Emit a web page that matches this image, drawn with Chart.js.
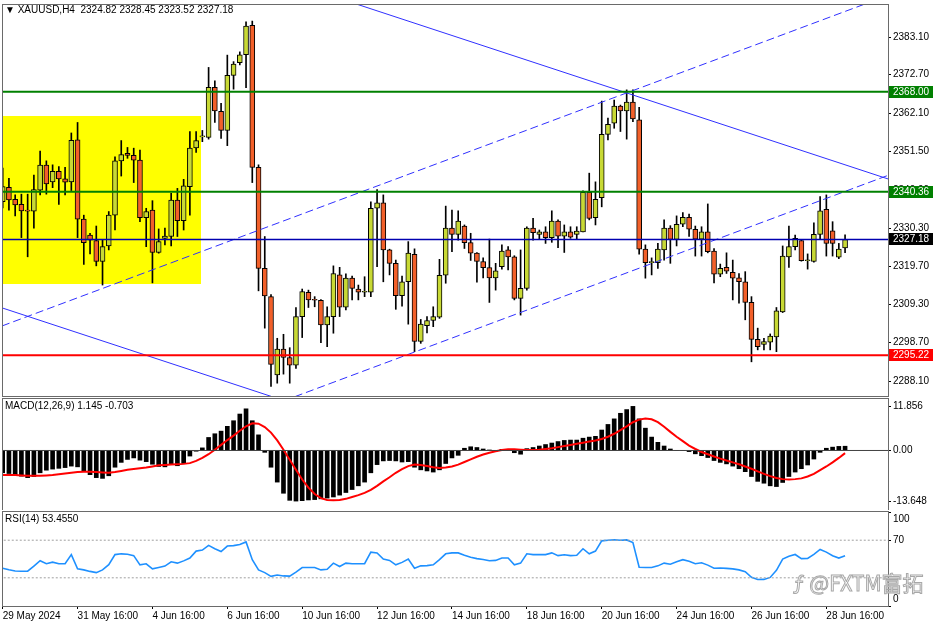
<!DOCTYPE html>
<html>
<head>
<meta charset="utf-8">
<script src="https://cdn.jsdelivr.net/npm/chart.js@4.4.1/dist/chart.umd.min.js"></script>
<style>
body { margin: 0; background: #fff; width: 936px; height: 624px; overflow: hidden; position: relative; font-family: "Liberation Sans", Arial, sans-serif; }
.pane { position: absolute; left: 0; width: 936px; }
.lbl { position: absolute; left: 5px; font-size: 10px; line-height: 12px; color: #000; white-space: pre; }
.mark { position: absolute; left: 793px; top: 567px; font-family: "Noto Sans CJK SC", "Liberation Sans", sans-serif; font-size: 21px; color: #fff; -webkit-text-stroke: 1px #a8a8a8; white-space: pre; }
</style>
</head>
<body>
<div class="pane" style="top:0;height:398px"><canvas id="priceChart"></canvas></div>
<div class="pane" style="top:398px;height:112px"><canvas id="macdChart"></canvas></div>
<div class="pane" style="top:511px;height:113px"><canvas id="rsiChart"></canvas></div>
<div class="lbl" style="top:4px">▼ XAUUSD,H4  2324.82 2328.45 2323.52 2327.18</div>
<div class="lbl" style="top:400px">MACD(12,26,9) 1.145 -0.703</div>
<div class="lbl" style="top:513px">RSI(14) 53.4550</div>
<div class="mark">ƒ @FXTM富拓</div>
<script>
/* XAUUSD H4 candles */

const opens = [
  2337.6, 2341.6, 2338.3, 2336.9, 2335.2, 2335.0, 2340.8, 2347.7, 2343.1, 2346.0,
  2343.9, 2343.1, 2354.7, 2332.8, 2328.4, 2326.9, 2321.1, 2325.4, 2333.9, 2348.9,
  2351.0, 2350.4, 2349.1, 2333.2, 2335.3, 2323.6, 2327.5, 2328.0, 2338.1, 2332.4,
  2341.8, 2352.5, 2355.5, 2355.4, 2369.2, 2362.6, 2357.3, 2372.5, 2376.0, 2378.2,
  2386.3, 2347.1, 2319.2, 2311.4, 2289.8, 2296.9, 2294.6, 2292.5, 2305.9, 2312.6,
  2310.5, 2310.4, 2303.6, 2305.9, 2317.4, 2308.5, 2316.5, 2313.5, 2312.6, 2312.6,
  2335.8, 2337.3, 2324.3, 2320.6, 2311.7, 2315.5, 2323.1, 2299.0, 2303.4, 2304.8,
  2305.7, 2317.3, 2330.3, 2328.6, 2330.9, 2326.3, 2323.4, 2321.1, 2319.4, 2316.6,
  2319.7, 2324.3, 2322.4, 2310.9, 2313.7, 2330.3, 2328.6, 2329.3, 2327.7, 2332.3,
  2328.1, 2329.3, 2328.6, 2329.3, 2340.2, 2333.2, 2338.7, 2356.2, 2359.3, 2364.0,
  2362.7, 2365.1, 2360.2, 2324.5, 2320.8, 2320.8, 2324.3, 2330.3, 2327.2, 2331.4,
  2333.3, 2330.0, 2327.3, 2329.3, 2324.0, 2317.6, 2319.5, 2318.1, 2316.6, 2315.5,
  2309.8, 2299.6, 2298.2, 2298.8, 2300.3, 2307.2, 2322.4, 2325.2, 2326.9, 2321.3,
  2321.1, 2328.6, 2335.5, 2329.6, 2322.3, 2324.82
];
const highs = [
  2346.9, 2344.1, 2339.5, 2339.7, 2339.7, 2345.0, 2351.6, 2348.9, 2347.8, 2347.3,
  2347.1, 2356.6, 2359.5, 2333.9, 2328.9, 2330.9, 2327.0, 2334.9, 2350.0, 2354.5,
  2352.6, 2352.4, 2351.9, 2335.8, 2337.9, 2330.1, 2330.3, 2339.9, 2341.3, 2343.8,
  2357.0, 2357.0, 2357.3, 2374.7, 2371.0, 2364.8, 2378.1, 2376.3, 2379.0, 2387.3,
  2387.5, 2347.8, 2328.0, 2312.0, 2299.9, 2301.0, 2297.3, 2308.4, 2313.5, 2313.2,
  2311.4, 2310.6, 2308.6, 2319.9, 2319.5, 2317.7, 2317.1, 2314.6, 2316.9, 2337.6,
  2341.0, 2339.5, 2324.5, 2321.5, 2317.1, 2326.6, 2324.6, 2305.1, 2305.9, 2308.6,
  2321.7, 2336.4, 2335.3, 2335.1, 2331.2, 2328.9, 2323.6, 2322.1, 2327.3, 2320.6,
  2325.7, 2325.2, 2322.7, 2324.3, 2330.7, 2333.0, 2329.8, 2330.7, 2335.1, 2332.6,
  2331.2, 2330.7, 2330.7, 2340.6, 2345.5, 2343.1, 2365.4, 2360.7, 2365.7, 2364.3,
  2368.5, 2368.5, 2363.7, 2325.7, 2322.1, 2326.1, 2332.6, 2331.0, 2333.7, 2334.6,
  2334.2, 2330.9, 2330.7, 2337.0, 2324.7, 2320.4, 2323.5, 2321.5, 2317.8, 2318.3,
  2311.4, 2302.7, 2299.9, 2301.1, 2308.4, 2325.4, 2330.9, 2328.4, 2327.0, 2323.2,
  2331.8, 2339.0, 2339.5, 2332.1, 2326.1, 2328.45
];
const lows = [
  2335.9, 2335.3, 2333.7, 2327.7, 2322.4, 2330.3, 2339.5, 2339.7, 2341.5, 2336.9,
  2339.5, 2340.7, 2327.7, 2320.3, 2323.2, 2319.9, 2314.6, 2324.3, 2329.8, 2344.7,
  2349.6, 2342.9, 2332.1, 2325.2, 2315.2, 2323.4, 2325.7, 2325.4, 2328.0, 2329.8,
  2333.9, 2351.2, 2354.2, 2354.9, 2359.5, 2355.1, 2353.1, 2368.7, 2375.4, 2369.1,
  2342.9, 2313.0, 2302.7, 2286.6, 2287.5, 2290.0, 2287.5, 2291.6, 2300.1, 2308.4,
  2308.6, 2298.7, 2297.6, 2301.3, 2305.9, 2307.7, 2310.5, 2310.5, 2311.4, 2311.4,
  2319.7, 2315.5, 2317.4, 2307.9, 2308.8, 2303.8, 2296.2, 2298.5, 2301.4, 2303.1,
  2305.4, 2315.1, 2323.8, 2327.0, 2324.7, 2321.4, 2315.4, 2316.6, 2309.8, 2313.2,
  2319.0, 2318.8, 2310.5, 2306.3, 2313.2, 2327.0, 2327.3, 2326.1, 2326.4, 2324.9,
  2323.6, 2327.5, 2327.3, 2329.3, 2332.6, 2331.2, 2336.2, 2354.7, 2357.9, 2357.0,
  2354.9, 2359.7, 2323.1, 2316.5, 2317.4, 2319.2, 2321.5, 2320.6, 2325.4, 2330.7,
  2328.0, 2322.6, 2322.6, 2323.5, 2315.2, 2316.9, 2317.8, 2310.5, 2309.6, 2305.0,
  2293.4, 2296.7, 2296.7, 2296.7, 2296.2, 2307.0, 2319.5, 2324.3, 2321.2, 2319.0,
  2320.9, 2327.2, 2322.6, 2322.6, 2321.9, 2323.52
];
const closes = [
  2341.8, 2338.1, 2336.7, 2335.1, 2335.0, 2341.0, 2347.7, 2342.5, 2346.0, 2343.9,
  2343.0, 2354.6, 2332.8, 2326.3, 2327.0, 2321.1, 2325.2, 2333.9, 2348.9, 2350.6,
  2350.4, 2349.1, 2333.2, 2334.9, 2323.6, 2326.6, 2328.1, 2338.1, 2332.4, 2342.0,
  2352.4, 2354.5, 2355.7, 2369.2, 2362.7, 2357.3, 2372.5, 2375.6, 2378.2, 2386.1,
  2347.1, 2319.2, 2311.6, 2292.7, 2296.9, 2294.6, 2292.5, 2305.9, 2312.8, 2310.5,
  2310.4, 2303.6, 2305.9, 2317.8, 2308.5, 2316.5, 2313.7, 2312.6, 2312.7, 2335.8,
  2337.3, 2324.3, 2320.6, 2311.7, 2315.5, 2323.4, 2299.0, 2303.8, 2304.8, 2305.9,
  2317.3, 2330.3, 2328.6, 2332.3, 2326.3, 2323.4, 2321.1, 2319.4, 2316.6, 2318.5,
  2324.0, 2322.4, 2310.9, 2313.7, 2330.3, 2329.1, 2329.3, 2327.7, 2332.3, 2328.1,
  2329.3, 2327.8, 2329.5, 2340.2, 2333.0, 2338.3, 2356.2, 2359.0, 2364.0, 2362.7,
  2365.1, 2360.5, 2324.5, 2320.8, 2320.9, 2324.5, 2330.3, 2327.2, 2331.4, 2333.3,
  2330.0, 2327.3, 2329.3, 2323.8, 2317.6, 2319.2, 2318.4, 2316.5, 2315.5, 2309.8,
  2299.6, 2297.6, 2299.0, 2300.5, 2307.5, 2322.6, 2325.2, 2327.5, 2321.3, 2321.4,
  2328.6, 2335.1, 2326.1, 2326.1, 2324.5, 2327.18
];

/* MACD(12,26,9) */
const macdHist = [
  -6.0, -6.2, -6.5, -6.9, -7.3, -7.0, -6.0, -5.3, -5.0, -4.8,
  -4.6, -4.2, -4.4, -5.5, -6.5, -7.3, -7.5, -6.8, -4.5, -3.2,
  -2.4, -2.0, -2.6, -3.0, -3.7, -4.3, -4.4, -3.8, -4.1, -3.5,
  -1.5, -0.2, 0.7, 3.5, 4.5, 5.2, 6.5, 8.0, 9.8, 11.2,
  8.0, 4.2, -0.5, -4.5, -8.5, -11.5, -13.4, -13.6, -13.5, -13.3,
  -13.2, -13.0, -12.8, -12.5, -12.0, -11.3, -10.5, -9.5, -8.5, -6.0,
  -3.8, -2.8, -2.7, -2.8, -3.1, -3.0, -4.5, -5.2, -5.5, -5.8,
  -5.2, -3.5, -2.0, -1.3, 0.6, 1.0, 0.8, 0.4, 0.1, -0.1,
  0.3, 0.2, -0.6, -1.0, 0.5, 0.8, 1.2, 1.6, 2.0, 2.4,
  2.7, 2.8, 2.8, 3.3, 3.6, 3.8, 5.5, 7.0, 8.5, 10.0,
  11.0, 11.856, 8.5, 6.0, 3.6, 2.2, 1.2, 0.4, 0.0, 0.0,
  -0.3, -0.9, -1.4, -1.9, -2.7, -3.2, -3.6, -4.2, -4.9, -5.7,
  -7.0, -8.3, -8.8, -9.5, -9.7, -8.6, -7.0, -5.8, -4.9, -3.9,
  -2.3, -0.5, 0.6, 0.9, 1.1, 1.145
];
const macdSignal = [
  -6.6, -6.6, -6.6, -6.7, -6.8, -6.8, -6.8, -6.7, -6.6, -6.4,
  -6.2, -6.0, -5.8, -5.7, -5.7, -5.8, -5.9, -6.0, -5.8, -5.5,
  -5.2, -5.0, -4.8, -4.6, -4.3, -4.0, -3.9, -3.8, -3.7, -3.6,
  -3.4, -2.8, -2.0, -1.0, 0.2, 1.5, 2.8, 4.0, 5.3, 6.5,
  7.3, 7.2, 6.3, 4.8, 2.7, 0.2, -2.5, -5.2, -7.8, -10.0,
  -11.7, -12.8, -13.3, -13.4, -13.3, -13.0, -12.5, -12.0, -11.4, -10.6,
  -9.5, -8.3, -7.2, -6.0, -5.0, -4.2, -3.8, -3.9, -4.2, -4.5,
  -4.7, -4.6, -4.3, -3.8, -3.1, -2.4, -1.7, -1.1, -0.6, -0.2,
  0.1, 0.3, 0.3, 0.2, 0.1, 0.1, 0.2, 0.4, 0.6, 0.9,
  1.2, 1.5, 1.8, 2.1, 2.4, 2.7, 3.1, 3.7, 4.5, 5.5,
  6.5, 7.6, 8.3, 8.6, 8.4, 7.6, 6.4, 5.0, 3.7, 2.5,
  1.3, 0.4, -0.4, -1.0, -1.6, -2.2, -2.7, -3.2, -3.7, -4.3,
  -4.9, -5.6, -6.3, -6.9, -7.4, -7.7, -7.8, -7.7, -7.5, -7.0,
  -6.3, -5.3, -4.3, -3.2, -2.0, -0.703
];

/* RSI(14) */
const rsiValues = [
  40.2, 38.5, 37.2, 37.0, 37.0, 42.5, 48.2, 45.0, 46.7, 45.0,
  45.0, 54.7, 39.5, 38.4, 36.8, 35.5, 38.4, 44.0, 54.7, 55.5,
  55.0, 53.6, 43.8, 44.9, 39.5, 41.0, 42.5, 47.0, 45.6, 48.0,
  51.0, 58.4, 59.5, 64.5, 61.0, 58.0, 63.8, 64.2, 65.5, 68.2,
  49.3, 38.4, 35.5, 31.5, 33.0, 32.0, 31.8, 36.0, 40.9, 40.9,
  40.9, 38.4, 39.0, 45.6, 42.0, 45.6, 45.0, 45.0, 45.0, 57.3,
  56.5, 50.0, 48.5, 43.8, 46.4, 50.0, 40.2, 42.7, 43.0, 43.8,
  49.3, 55.5, 56.5, 56.5, 54.0, 51.8, 50.4, 49.5, 48.2, 48.5,
  51.0, 51.0, 43.8, 45.6, 55.5, 54.7, 54.7, 54.7, 56.5, 53.6,
  54.5, 53.6, 53.9, 60.9, 55.5, 58.4, 69.3, 70.0, 70.5, 70.0,
  70.3, 67.5, 41.3, 40.9, 40.9, 42.7, 45.6, 44.5, 47.0, 49.3,
  47.5, 45.0, 46.0, 43.5, 40.2, 40.5, 40.0, 39.5, 38.4, 36.5,
  30.5, 28.2, 28.3, 30.4, 38.0, 50.0, 53.0, 54.8, 50.4, 50.5,
  55.0, 60.2, 57.3, 53.5, 51.0, 53.455
];

/* axes */
const priceTicks = [2383.10, 2372.70, 2362.10, 2351.50, 2340.90, 2330.30, 2319.70, 2309.30, 2298.70, 2288.10];
const macdTicks = [11.856, 0, -13.648];
const rsiTicks = [100, 70, 0];
const rsiLevels = [70, 30];
const dateTickIndex = [0, 12, 24, 36, 48, 60, 72, 84, 96, 108, 120, 132];
const dateTickLabels = [
  "29 May 2024", "31 May 16:00", "4 Jun 16:00", "6 Jun 16:00", "10 Jun 16:00", "12 Jun 16:00",
  "14 Jun 16:00", "18 Jun 16:00", "20 Jun 16:00", "24 Jun 16:00", "26 Jun 16:00", "28 Jun 16:00"
];

/* drawing objects */
const levelValues = [2368.00, 2340.36, 2327.18, 2295.22];
const zoneTop = 2361.3, zoneBottom = 2314.9, zoneEnd = 31.8;
const solidLines = [[-0.11, 2308.3, 50, 2279.9], [50, 2396.0, 141.9, 2343.9]];
const dashedLines = [[-0.11, 2303.3, 141.9, 2394.6], [45, 2282.6, 141.9, 2344.9]];

const BULL = "#c8d935";
const BEAR = "#f2602a";
const levelColors = ["#008000", "#008000", "#0000b0", "#ff0000"];
const levelBoxColors = ["#008000", "#008000", "#000000", "#ff0000"];
const levelWidths = [2, 2, 1.3, 2];

const xMin = -0.11, xMax = 141.88;
const idx = opens.map((_, i) => i);

Chart.defaults.font.family = "Liberation Sans";
Chart.defaults.font.size = 10;
Chart.defaults.color = "#000";
Chart.defaults.animation = false;
Chart.defaults.plugins.legend.display = false;
Chart.defaults.plugins.tooltip.enabled = false;

function hiddenX() {
    return { type: "linear", min: xMin, max: xMax, offset: false, display: false };
}

function rightY(min, max, ticks) {
    return {
        position: "right", min: min, max: max,
        afterFit: (scale) => { scale.width = 48; },
        afterBuildTicks: (scale) => { scale.ticks = ticks.map((v) => ({ value: v })); },
        grid: { drawOnChartArea: false, tickLength: 3, color: "#000" },
        border: { display: true, color: "#000" },
        ticks: { display: false }
    };
}

function flatLine(value, color, width, dash) {
    return {
        type: "line",
        data: [{ x: xMin - 1, y: value }, { x: xMax + 1, y: value }],
        borderColor: color, borderWidth: width, borderDash: dash || [],
        pointRadius: 0, order: 0
    };
}

const frame = {
    id: "frame",
    afterDraw(chart) {
        const { ctx, chartArea } = chart;
        ctx.save();
        ctx.strokeStyle = "#6a6a6a";
        ctx.lineWidth = 1;
        ctx.strokeRect(chartArea.left + 0.5, chartArea.top - 0.5, chartArea.width, chartArea.height + 1);
        ctx.restore();
    }
};

// right-hand axis labels, kept inside the panel
const sideLabels = {
    id: "sideLabels",
    afterDraw(chart, args, opts) {
        const { ctx, chartArea, scales } = chart;
        ctx.save();
        ctx.font = "10px 'Liberation Sans'";
        ctx.fillStyle = "#000";
        ctx.textBaseline = "middle";
        opts.values.forEach((v) => {
            let py = scales.y.getPixelForValue(v);
            py = Math.min(Math.max(py, chartArea.top + 7), chartArea.bottom - 7);
            ctx.fillText(opts.format(v), chartArea.right + 5, py);
        });
        ctx.restore();
    }
};

const levelBoxes = {
    id: "levelBoxes",
    afterDraw(chart) {
        const { ctx, chartArea, scales } = chart;
        ctx.save();
        ctx.font = "10px 'Liberation Sans'";
        ctx.textBaseline = "middle";
        levelValues.forEach((v, k) => {
            const py = Math.round(scales.y.getPixelForValue(v));
            ctx.fillStyle = levelBoxColors[k];
            ctx.fillRect(chartArea.right + 1, py - 6, 44, 12);
            ctx.fillStyle = "#fff";
            ctx.fillText(v.toFixed(2), chartArea.right + 5, py + 0.5);
        });
        ctx.restore();
    }
};

/* price panel */
const priceDatasets = [
    {
        type: "line",
        data: [{ x: xMin - 1, y: zoneTop }, { x: zoneEnd, y: zoneTop }],
        fill: { value: zoneBottom }, backgroundColor: "#ffff00",
        borderWidth: 0, pointRadius: 0, order: 9
    },
    {
        data: idx.map((i) => ({ x: i, y: [lows[i], highs[i]] })),
        backgroundColor: "#000", barThickness: 1, grouped: false, order: 3
    },
    {
        data: idx.map((i) => ({ x: i, y: [opens[i], closes[i]] })),
        backgroundColor: idx.map((i) => (closes[i] >= opens[i] ? BULL : BEAR)),
        borderColor: "#000", borderWidth: 1, borderSkipped: false,
        barThickness: 5, minBarLength: 1, grouped: false, order: 2
    }
];
levelValues.forEach((v, k) => priceDatasets.push(flatLine(v, levelColors[k], levelWidths[k])));
solidLines.forEach((l) => priceDatasets.push({
    type: "line", data: [{ x: l[0], y: l[1] }, { x: l[2], y: l[3] }],
    borderColor: "#3030ff", borderWidth: 1, pointRadius: 0, order: 1
}));
dashedLines.forEach((l) => priceDatasets.push({
    type: "line", data: [{ x: l[0], y: l[1] }, { x: l[2], y: l[3] }],
    borderColor: "#3030ff", borderWidth: 1, borderDash: [8, 4], pointRadius: 0, order: 1
}));

new Chart(document.getElementById("priceChart"), {
    type: "bar",
    data: { datasets: priceDatasets },
    options: {
        responsive: true,
        maintainAspectRatio: false,
        layout: { padding: { left: 2, top: 5, bottom: 2 } },
        scales: { x: hiddenX(), y: rightY(2283.96, 2391.94, priceTicks) },
        plugins: {
            sideLabels: { values: priceTicks, format: (v) => v.toFixed(2) }
        }
    },
    plugins: [frame, sideLabels, levelBoxes]
});

/* MACD panel */
new Chart(document.getElementById("macdChart"), {
    type: "bar",
    data: {
        datasets: [
            flatLine(0, "#404040", 1),
            {
                data: idx.map((i) => ({ x: i, y: macdHist[i] })),
                backgroundColor: "#000", barThickness: 4, grouped: false, order: 3
            },
            {
                type: "line",
                data: idx.map((i) => ({ x: i, y: macdSignal[i] })),
                borderColor: "#ff0000", borderWidth: 2, pointRadius: 0, order: 1
            }
        ]
    },
    options: {
        responsive: true,
        maintainAspectRatio: false,
        layout: { padding: { left: 2, top: 1, bottom: 0 } },
        scales: { x: hiddenX(), y: rightY(-16.0, 13.84, macdTicks) },
        plugins: {
            sideLabels: { values: macdTicks, format: (v) => (v === 0 ? "0.00" : v.toFixed(3)) }
        }
    },
    plugins: [frame, sideLabels]
});

/* RSI panel */
const rsiX = {
    type: "linear", min: xMin, max: xMax, offset: false,
    afterFit: (scale) => { scale.height = 18; },
    afterBuildTicks: (scale) => { scale.ticks = dateTickIndex.map((v) => ({ value: v })); },
    grid: { drawOnChartArea: false, tickLength: 3, color: "#000" },
    border: { display: false },
    ticks: {
        autoSkip: false, maxRotation: 0, align: "start", padding: 1,
        callback: (v) => dateTickLabels[dateTickIndex.indexOf(v)]
    }
};

new Chart(document.getElementById("rsiChart"), {
    type: "line",
    data: {
        datasets: [
            flatLine(rsiLevels[0], "#a0a0a0", 1, [2, 2]),
            flatLine(rsiLevels[1], "#a0a0a0", 1, [2, 2]),
            {
                data: idx.map((i) => ({ x: i, y: rsiValues[i] })),
                borderColor: "#1e90ff", borderWidth: 1.6, pointRadius: 0, order: 1
            }
        ]
    },
    options: {
        responsive: true,
        maintainAspectRatio: false,
        layout: { padding: { left: 2, top: 1, bottom: 0 } },
        scales: { x: rsiX, y: rightY(0, 100, rsiTicks) },
        plugins: {
            sideLabels: { values: rsiTicks, format: (v) => String(v) }
        }
    },
    plugins: [frame, sideLabels]
});
</script>
</body>
</html>
